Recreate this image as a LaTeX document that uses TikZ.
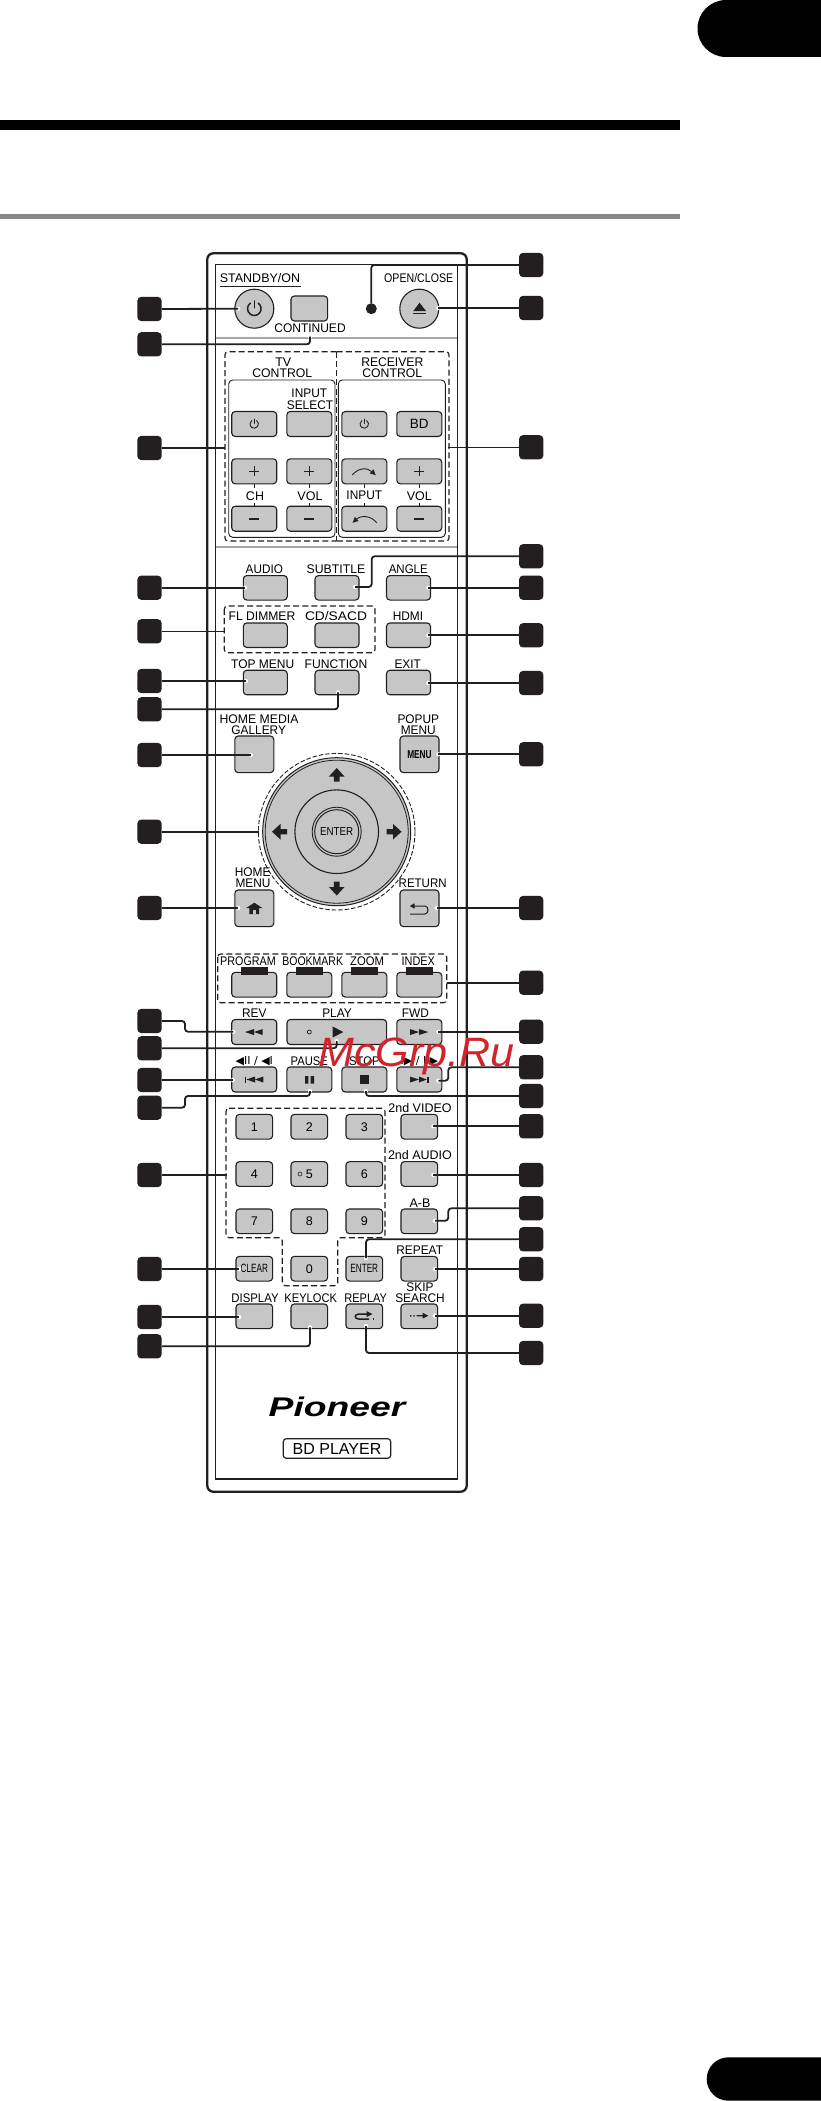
\documentclass[tikz,border=0pt]{standalone}
\usepackage{fontspec}
\usepackage{graphicx}
\setmainfont{Liberation Sans}
\newfontfamily\dejav{DejaVu Sans}
\usetikzlibrary{arrows.meta,calc}
\definecolor{btnc}{HTML}{C6C6C6}
\definecolor{ink}{HTML}{231F20}
\definecolor{wm}{HTML}{D2222A}
\tikzset{
 x=1pt,y=-1pt,
 btnS/.style={draw=ink,fill=btnc,line width=1.1pt,rounded corners=3.5pt,inner sep=0pt,font=\fontsize{12.5}{13}\selectfont},
 circS/.style={circle,draw=ink,fill=btnc,line width=1.1pt,inner sep=0pt},
 lab/.style={inner sep=0pt,font=\fontsize{12.5}{13}\selectfont},
 numbox/.style={fill=ink,rounded corners=4pt,minimum width=24.3pt,minimum height=24.3pt,inner sep=0pt},
 lead/.style={draw=ink,line width=1.8pt,rounded corners=3pt},
 dashbox/.style={draw=ink,line width=1.15pt,dashed,dash pattern=on 6pt off 3.2pt,rounded corners=3pt},
}
\newcommand\rb[6]{\node[btnS,minimum width=#4pt,minimum height=#5pt] (#1) at (#2,#3) {#6};}
\newcommand\lb[4]{\node[lab] (#1) at (#2,#3) {#4};}
\newcommand\lbx[5]{\node[lab] (#1) at (#2,#3) {\scalebox{#4}[1]{#5}};}
\newcommand\nL[2]{\node[numbox] (#1) at (149.5,#2) {};}
\newcommand\nR[2]{\node[numbox] (#1) at (531.2,#2) {};}
\newcommand\tp[3]{\coordinate (#1) at (#2,#3); \fill[white] (#1) circle (2.1pt);}
\newcommand\pw[4]{\draw[ink,line width=#4pt,line cap=round] (#1,#2)++(55:#3pt) arc (55:-235:#3pt); \draw[ink,line width=#4pt,line cap=round] (#1,#2)++(0,-#3*1.15) -- ++(0,#3*1.0);}
\newcommand\triL[3]{\fill[ink] (#1,#3)--(#2,#3-3)--(#2,#3+3)--cycle;}
\newcommand\triR[3]{\fill[ink] (#2,#3)--(#1,#3-3)--(#1,#3+3)--cycle;}
\newcommand\plus[2]{\draw[ink,line width=1.2pt] (#1-5,#2)--(#1+5,#2) (#1,#2-5)--(#1,#2+5);}
\newcommand\minus[2]{\draw[ink,line width=2pt] (#1-5,#2)--(#1+5,#2);}
\begin{document}
\begin{tikzpicture}
\useasboundingbox (0,0) rectangle (821,2101);
\fill[white] (0,0) rectangle (821,2101);
% page furniture
\fill[black] (821,0) -- (726,0) arc (90:270:28.5pt) -- (821,57) -- cycle;
\fill[black] (821,2057.3) -- (728.4,2057.3) arc (90:270:21.7pt) -- (821,2100.7) -- cycle;
\fill[black] (0,120) rectangle (680,130);
\fill[black!47] (0,214) rectangle (680,219);
% body
\draw[ink,line width=2.3pt,rounded corners=6pt] (207.3,253.3) rectangle (466.7,1491.7);
\draw[ink,line width=1.2pt] (215.7,264.3) rectangle (457.3,1479);
\draw[black!35,line width=2.4pt] (215.7,338) -- (457.3,338);
\draw[black!35,line width=2.4pt] (215.7,547) -- (457.3,547);
% top row
\lb{tStandby}{260}{278}{STANDBY/ON}
\draw[ink,line width=1pt] (220,286) -- (301,286);
\node[circS,minimum size=39pt] (bPower) at (254.3,308.7) {};
\pw{254.3}{308.7}{6.8}{1.5}
\rb{bCont}{309.3}{308.5}{36.7}{25}{}
\lbx{tCont}{310}{328}{.96}{CONTINUED}
\node[circle,fill=ink,minimum size=11pt,inner sep=0pt] (dot) at (371.3,308.7) {};
\lbx{tOpen}{418.7}{278.3}{.85}{OPEN/CLOSE}
\node[circS,minimum size=39pt] (bEject) at (419.3,308.7) {};
\fill[ink] (419.6,302.7)--(426,311)--(413.3,311)--cycle;
\fill[ink] (413.3,312.6) rectangle (426,314.2);
% TV and receiver
\draw[ink,line width=.9pt,rounded corners=4pt] (228.7,380) rectangle (335,537.3);
\draw[ink,line width=.9pt,rounded corners=4pt] (338.3,380) rectangle (445.3,537.3);
\draw[dashbox] (336.7,351.7) -- (225,351.7) -- (225,541) -- (336.7,541);
\draw[dashbox] (336.7,351.7) -- (449,351.7) -- (449,541) -- (336.7,541);
\draw[dashbox,rounded corners=0pt] (336.7,351.7) -- (336.7,541);
\lb{tTV}{283.3}{361.7}{TV}
\lbx{tTVc}{282.3}{373}{.98}{CONTROL}
\lbx{tRec}{392.3}{361.7}{.97}{RECEIVER}
\lbx{tRecc}{392.3}{373}{.98}{CONTROL}
\lbx{tInS1}{309.3}{393.7}{.95}{INPUT}
\lbx{tInS2}{310}{405}{.95}{SELECT}
\rb{bTvP}{254.2}{424}{45}{25}{}
\rb{bTvI}{309.3}{424}{45}{25}{}
\rb{bRcP}{364.3}{424}{45}{25}{}
\rb{bRcB}{419.3}{424}{45}{25}{\fontsize{13.5}{14}\selectfont BD}
\pw{254.2}{424}{4.2}{.9}
\pw{364.3}{424}{4.2}{.9}
\rb{bCHp}{254.2}{471.3}{45}{25}{}
\rb{bVOp}{309.3}{471.3}{45}{25}{}
\rb{bINp}{364.3}{471.3}{45}{25}{}
\rb{bVRp}{419.3}{471.3}{45}{25}{}
\rb{bCHm}{254.2}{518.7}{45}{25}{}
\rb{bVOm}{309.3}{518.7}{45}{25}{}
\rb{bINm}{364.3}{518.7}{45}{25}{}
\rb{bVRm}{419.3}{518.7}{45}{25}{}
\plus{254.2}{471.3}\plus{309.3}{471.3}\plus{419.3}{471.3}
\minus{254.2}{518.7}\minus{309.3}{518.7}\minus{419.3}{518.7}
\draw[ink,line width=.9pt,-{Latex[length=6pt,width=6pt]}] (352.3,475) .. controls (358,468) and (367,467) .. (376,475.5);
\draw[ink,line width=.9pt,-{Latex[length=6pt,width=6pt]}] (376.7,522.7) .. controls (371,515.5) and (361,515) .. (352.3,523);
\foreach \xx in {254.2,309.3,364.3,419.3}{\draw[ink,line width=.8pt] (\xx,484)--(\xx,488) (\xx,503)--(\xx,506);}
\lb{tCH}{255}{495.7}{CH}
\lb{tVOL}{310}{495.7}{VOL}
\lbx{tINP}{364.3}{495.7}{.95}{INPUT}
\lb{tVRL}{419.3}{495.7}{VOL}
% rows
\lbx{tAudio}{264.3}{569}{.94}{AUDIO}
\lbx{tSub}{336}{569}{.98}{SUBTITLE}
\lbx{tAngle}{408.3}{569}{.92}{ANGLE}
\rb{bAudio}{265.3}{587.8}{44}{24.5}{}
\rb{bSub}{337}{587.8}{44}{24.5}{}
\rb{bAngle}{408.5}{587.8}{44}{24.5}{}
\draw[dashbox] (224.3,606) rectangle (375,652.7);
\lbx{tFL}{262}{616.3}{.97}{FL DIMMER}
\lbx{tCD}{336}{616.3}{1.1}{CD/SACD}
\lbx{tHDMI}{408}{616.3}{.95}{HDMI}
\rb{bFL}{265.3}{635.2}{44}{24.5}{}
\rb{bCD}{337}{635.2}{44}{24.5}{}
\rb{bHDMI}{408.5}{635.2}{44}{24.5}{}
\lbx{tTop}{262.7}{663.7}{.96}{TOP MENU}
\lbx{tFun}{336}{663.7}{.97}{FUNCTION}
\lbx{tExit}{407.7}{663.7}{.95}{EXIT}
\rb{bTop}{265.3}{682.5}{44}{24.5}{}
\rb{bFun}{337}{682.5}{44}{24.5}{}
\rb{bExit}{408.5}{682.5}{44}{24.5}{}
\lbx{tHM1}{259}{719}{.98}{HOME MEDIA}
\lbx{tHM2}{258.7}{730}{.95}{GALLERY}
\lbx{tPop1}{418.3}{719}{.95}{POPUP}
\lbx{tPop2}{418.3}{730}{.95}{MENU}
\rb{bGal}{254.3}{754.3}{39}{36.7}{}
\rb{bMenu}{419.5}{754.3}{39}{36.7}{\fontsize{11.5}{12}\selectfont\scalebox{.72}[1]{\bfseries MENU}}
% navigation
\draw[dashbox,rounded corners=0pt,dash pattern=on 4.5pt off 2pt,line width=.9pt] (336.7,831.7) circle (78.3pt);
\node[circle,draw=ink,fill=btnc,line width=1pt,minimum size=148pt,inner sep=0pt] (nav) at (336.7,831.7) {};
\draw[ink,line width=.8pt] (nav.center) circle (71.5pt);
\draw[ink,line width=1.1pt] (nav.center) circle (41.8pt);
\draw[ink,line width=.9pt] (nav.center) circle (24.5pt);
\node[circle,draw=ink,fill=btnc,line width=1pt,minimum size=44pt,inner sep=0pt,font=\fontsize{11.5}{12}\selectfont] (bEnter) at (nav.center) {\scalebox{.85}[1]{ENTER}};
\fill[ink] (336.7,768)--(344.5,776.5)--(339.5,776.5)--(339.5,781.5)--(333.9,781.5)--(333.9,776.5)--(328.9,776.5)--cycle;
\fill[ink] (336.7,895.5)--(344.5,887)--(339.5,887)--(339.5,881.5)--(333.9,881.5)--(333.9,887)--(328.9,887)--cycle;
\fill[ink] (272,831.7)--(280.5,823.9)--(280.5,829)--(287,829)--(287,834.4)--(280.5,834.4)--(280.5,839.5)--cycle;
\fill[ink] (401.5,831.7)--(393,823.9)--(393,829)--(386.5,829)--(386.5,834.4)--(393,834.4)--(393,839.5)--cycle;
\lbx{tHom1}{252.7}{872.3}{.95}{HOME}
\lbx{tHom2}{253}{883.3}{.95}{MENU}
\lbx{tRet}{422.7}{883.3}{.92}{RETURN}
\rb{bHome}{254.3}{908.3}{39}{36.7}{}
\rb{bRet}{419.5}{908.3}{39}{36.7}{}
\fill[ink] (254.3,902.7)--(262.7,908.2)--(259.2,908.2)--(259.2,914)--(249.4,914)--(249.4,908.2)--(246,908.2)--cycle;
\fill[btnc] (253,910) rectangle (255.8,914);
\fill[ink] (409.8,906)--(414.5,903.3)--(414.5,908.7)--cycle;
\draw[ink,line width=1pt] (414,906)--(425,906) .. controls (429,906) and (429,914) .. (425,914)--(410,914);
% colour row
\draw[dashbox] (217.7,954) rectangle (446.7,1002.7);
\lbx{tProg}{248}{961.3}{.86}{PROGRAM}
\lbx{tBook}{312.7}{961.3}{.84}{BOOKMARK}
\lbx{tZoom}{367}{961.3}{.9}{ZOOM}
\lbx{tIdx}{418.3}{961.3}{.87}{INDEX}
\rb{bProg}{254.2}{984.7}{45}{24.7}{}
\rb{bBook}{309.3}{984.7}{45}{24.7}{}
\rb{bZoom}{364.3}{984.7}{45}{24.7}{}
\rb{bIdx}{419.3}{984.7}{45}{24.7}{}
\foreach \xx in {254.5,309.3,364.3,419.5}{\fill[ink] (\xx-13.3,967.3) rectangle (\xx+13.3,974.7);}
% transport
\lbx{tRev}{254.3}{1013.3}{.95}{REV}
\lbx{tPlay}{337}{1013.3}{.95}{PLAY}
\lbx{tFwd}{415.3}{1013.3}{.95}{FWD}
\rb{bRev}{254.2}{1032}{45}{25}{}
\rb{bPlay}{336.8}{1032}{99.7}{25}{}
\rb{bFwd}{419.3}{1032}{45}{25}{}
\triL{245}{254}{1032}\triL{254}{262.7}{1032}
\draw[ink,line width=.7pt] (309.3,1032) circle (2pt);
\fill[ink] (343.3,1032)--(332.7,1026.5)--(332.7,1037.5)--cycle;
\triR{410}{419}{1032}\triR{419}{428.3}{1032}
\node[lab,font=\dejav\fontsize{11}{11}\selectfont] (tSl) at (254.3,1060.7) {◀II / ◀I};
\lbx{tPause}{309.3}{1060.7}{.9}{PAUSE}
\lbx{tStop}{364.3}{1060.7}{.9}{STOP}
\node[lab,font=\dejav\fontsize{11}{11}\selectfont] (tSr) at (419.3,1060.7) {I▶ / II▶};
\rb{bPrev}{254.2}{1079.5}{45}{25}{}
\rb{bPause}{309.3}{1079.5}{45}{25}{}
\rb{bStop}{364.3}{1079.5}{45}{25}{}
\rb{bNext}{419.3}{1079.5}{45}{25}{}
\fill[ink] (244.7,1076.5) rectangle (246,1082.5);
\triL{246.5}{255}{1079.5}\triL{255}{263.3}{1079.5}
\fill[ink] (305,1076) rectangle (308.3,1083.5) (310.7,1076) rectangle (314,1083.5);
\fill[ink] (360,1075.3) rectangle (369,1084);
\triR{410}{419}{1079.5}\triR{419}{426.7}{1079.5}
\fill[ink] (427.3,1076.5) rectangle (428.8,1082.5);
% number pad
\draw[dashbox] (226,1108.3)--(385,1108.3)--(385,1237.7)--(337.7,1237.7)--(337.7,1285.7)--(282.3,1285.7)--(282.3,1237.7)--(226,1237.7)--cycle;
\newcommand\nb[4]{\rb{#1}{#2}{#3}{36.7}{24.7}{#4}}
\nb{n1}{254.3}{1126.7}{1}\nb{n2}{309.3}{1126.7}{2}\nb{n3}{364.3}{1126.7}{3}
\nb{n4}{254.3}{1174}{4}\nb{n5}{309.3}{1174}{5}\nb{n6}{364.3}{1174}{6}
\nb{n7}{254.3}{1221.3}{7}\nb{n8}{309.3}{1221.3}{8}\nb{n9}{364.3}{1221.3}{9}
\draw[ink,line width=.6pt] (300,1174) circle (2pt);
\nb{bClear}{254.3}{1268.7}{\fontsize{12}{12}\selectfont\scalebox{.68}[1]{CLEAR}}
\nb{n0}{309.3}{1268.7}{0}
\nb{bEnt}{364.3}{1268.7}{\fontsize{12}{12}\selectfont\scalebox{.68}[1]{ENTER}}
\nb{b2V}{419.3}{1126.7}{}\nb{b2A}{419.3}{1174}{}\nb{bAB}{419.3}{1221.3}{}\nb{bRep}{419.3}{1268.7}{}
\lb{t2V}{420}{1107.7}{2nd VIDEO}
\lb{t2A}{420}{1155}{2nd AUDIO}
\lb{tAB}{420}{1202.7}{A-B}
\lbx{tRp}{419.7}{1250}{.95}{REPEAT}
\lbx{tSk1}{420}{1287.3}{.95}{SKIP}
\lbx{tSk2}{420}{1297.7}{.95}{SEARCH}
\lbx{tDisp}{255}{1297.7}{.91}{DISPLAY}
\lbx{tKey}{310.7}{1297.7}{.89}{KEYLOCK}
\lbx{tRpl}{365.7}{1297.7}{.88}{REPLAY}
\nb{bDisp}{254.3}{1316.3}{}\nb{bKey}{309.3}{1316.3}{}\nb{bRpl}{364.3}{1316.3}{}\nb{bSkip}{419.3}{1316.3}{}
\draw[ink,line width=1.5pt] (369,1319)--(359,1319) .. controls (354,1319) and (354,1314) .. (359,1314)--(367,1314);
\fill[ink] (372.5,1314)--(366.5,1311)--(366.5,1317)--cycle;
\fill[ink] (372.5,1318) rectangle (374,1319.8);
\fill[ink] (410,1315) rectangle (411.4,1316.6) (413.3,1315) rectangle (414.7,1316.6) (416.7,1315) rectangle (424,1316.4);
\fill[ink] (428.3,1315.7)--(422.5,1312.7)--(422.5,1318.7)--cycle;
% brand
\node[inner sep=0pt] (logo) at (337,1406.5) {\scalebox{1.38}[1]{\fontsize{27}{27}\selectfont\bfseries\itshape Pioneer}};
\node[draw=ink,line width=1.2pt,rounded corners=3pt,minimum width=107.4pt,minimum height=19.6pt,inner sep=0pt,font=\fontsize{16}{16}\selectfont] (bd) at (337,1448.5) {BD PLAYER};
% number boxes and leaders, left
\nL{L1}{309}\tp{e1}{238.3}{308.7}\draw[lead] (L1.east) -- (e1);
\nL{L2}{344.3}\tp{e2}{310}{336.7}\draw[lead] (L2.east) -| (e2);
\nL{L3}{448}\coordinate (e3) at (225.3,448);\draw[lead,line width=1.6pt] (L3.east) -- (e3);
\nL{L4}{587.7}\tp{e4}{245}{587.7}\draw[lead] (L4.east) -- (e4);
\nL{L5}{631.3}\coordinate (e5) at (224,631.3);\draw[lead,line width=1.6pt] (L5.east) -- (e5);
\nL{L6}{681}\tp{e6}{246}{681}\draw[lead] (L6.east) -- (e6);
\nL{L7}{709.3}\tp{e7}{338}{692.3}\draw[lead] (L7.east) -| (e7);
\nL{L8}{755}\tp{e8}{251}{755}\draw[lead] (L8.east) -- (e8);
\nL{L9}{831.7}\coordinate (e9) at (259,831.7);\draw[lead,line width=1.6pt] (L9.east) -- (e9);
\nL{L10}{908}\tp{e10}{238.3}{908}\draw[lead] (L10.east) -- (e10);
\nL{L11}{1021}\tp{e11}{233.3}{1031.7}\coordinate (k11) at (185,1026);\draw[lead] (L11.east) -| (k11) |- (e11);
\nL{L12}{1048.3}\tp{e12}{336.7}{1041}\draw[lead] (L12.east) -| (e12);
\nL{L13}{1080}\tp{e13}{232.7}{1080}\draw[lead] (L13.east) -- (e13);
\nL{L14}{1107.7}\tp{e14}{310}{1091}\coordinate (k14) at (185,1102);\draw[lead] (L14.east) -| (k14) |- (310,1096) -- (e14);
\nL{L15}{1175}\coordinate (e15) at (226.7,1175);\draw[lead,line width=1.6pt] (L15.east) -- (e15);
\nL{L16}{1269}\tp{e16}{239.3}{1269}\draw[lead] (L16.east) -- (e16);
\nL{L17}{1317}\tp{e17}{239.3}{1317}\draw[lead] (L17.east) -- (e17);
\nL{L18}{1346.3}\tp{e18}{310}{1327.3}\draw[lead] (L18.east) -| (e18);
% right
\nR{R1}{265}\draw[lead] (R1.west) -| (dot.north);
\nR{R2}{308}\tp{f2}{438.3}{308}\draw[lead] (R2.west) -- (f2);
\nR{R3}{447.3}\coordinate (f3) at (448.3,447.3);\draw[lead,line width=1.6pt] (R3.west) -- (f3);
\nR{R4}{556.3}\tp{f4}{355}{587}\coordinate (k4) at (371.7,570);\draw[lead] (R4.west) -| (k4) |- (f4);
\nR{R5}{587.7}\tp{f5}{428.3}{587.7}\draw[lead] (R5.west) -- (f5);
\nR{R6}{635.3}\tp{f6}{428.3}{635.3}\draw[lead] (R6.west) -- (f6);
\nR{R7}{683}\tp{f7}{428.3}{683}\draw[lead] (R7.west) -- (f7);
\nR{R8}{754.3}\tp{f8}{438.3}{754.3}\draw[lead] (R8.west) -- (f8);
\nR{R9}{908}\tp{f9}{436.7}{908}\draw[lead] (R9.west) -- (f9);
\nR{R10}{982.7}\coordinate (f10) at (446.7,982.7);\draw[lead,line width=1.6pt] (R10.west) -- (f10);
\nR{R11}{1031.7}\tp{f11}{438.3}{1031.7}\draw[lead] (R11.west) -- (f11);
\nR{R12}{1067.3}\tp{f12}{438.3}{1080.7}\coordinate (k12) at (448.3,1074);\draw[lead] (R12.west) -| (k12) |- (f12);
\nR{R13}{1096}\tp{f13}{366}{1091}\draw[lead] (R13.west) -| (f13);
\nR{R14}{1126.3}\tp{f14}{433.3}{1126.3}\draw[lead] (R14.west) -- (f14);
\nR{R15}{1175}\tp{f15}{433.3}{1175}\draw[lead] (R15.west) -- (f15);
\nR{R16}{1208.3}\tp{f16}{435}{1220.7}\coordinate (k16) at (448.3,1214);\draw[lead] (R16.west) -| (k16) |- (f16);
\nR{R17}{1239.3}\tp{f17}{366}{1258}\draw[lead] (R17.west) -| (f17);
\nR{R18}{1269}\tp{f18}{435}{1269}\draw[lead] (R18.west) -- (f18);
\nR{R19}{1315.7}\tp{f19}{435}{1315.7}\draw[lead] (R19.west) -- (f19);
\nR{R20}{1353}\tp{f20}{366}{1326}\draw[lead] (R20.west) -| (f20);
% watermark
\node[inner sep=0pt,anchor=base,text=wm] (mark) at (416.5,1066.7) {\scalebox{1.05}[1]{\fontsize{41}{41}\selectfont\itshape McGrp.Ru}};
\end{tikzpicture}
\end{document}
